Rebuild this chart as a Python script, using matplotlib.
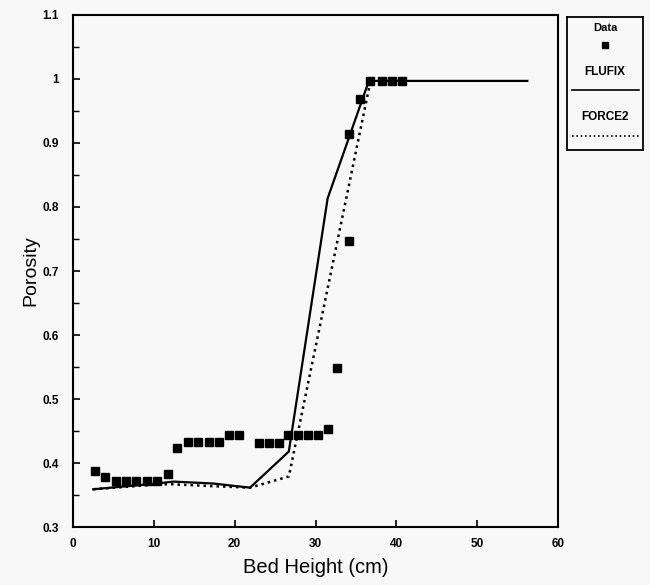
import numpy as np
import matplotlib
matplotlib.use("Agg")
import matplotlib.pyplot as plt
from matplotlib.ticker import MultipleLocator

# measured porosity
data_x = [2.7, 4.0, 5.3, 6.6, 7.8, 9.1, 10.4, 11.7, 12.9, 14.2, 15.5, 16.8, 18.1,
          19.3, 20.5, 23.0, 24.2, 25.5, 26.6, 27.8, 29.1, 30.3, 31.5, 32.7,
          34.1, 34.2, 35.5, 36.8, 38.2, 39.5, 40.7]
data_y = [0.388, 0.378, 0.372, 0.372, 0.372, 0.372, 0.372, 0.383, 0.423, 0.433,
          0.433, 0.433, 0.433, 0.443, 0.443, 0.432, 0.432, 0.432, 0.443, 0.443,
          0.443, 0.443, 0.453, 0.548, 0.747, 0.914, 0.968, 0.997, 0.997, 0.997, 0.997]

# FLUFIX model
flufix_x = [2.5, 10.4, 12.4, 17.3, 21.9, 26.7, 31.5, 36.6, 56.2]
flufix_y = [0.359, 0.368, 0.371, 0.368, 0.3615, 0.418, 0.8135, 0.997, 0.997]

# FORCE2 model
force2_x = [2.5, 10.0, 12.0, 17.0, 21.9, 26.7, 36.8]
force2_y = [0.359, 0.366, 0.367, 0.364, 0.3615, 0.379, 0.997]

plt.rcParams['font.family'] = ['Liberation Sans', 'DejaVu Sans']

fig = plt.figure(figsize=(6.5, 5.85), dpi=100)
fig.patch.set_facecolor('#f8f8f8')
ax = fig.add_axes([0.1123, 0.0991, 0.7462, 0.8753])
ax.set_facecolor('#f8f8f8')

ax.plot(flufix_x, flufix_y, color='black', lw=1.6)
ax.plot(force2_x, force2_y, color='black', lw=1.8, linestyle=(0, (1, 1.6)))
ax.plot(data_x, data_y, linestyle='none', marker='s', ms=6, color='black')

ax.set_xlim(0, 60)
ax.set_ylim(0.3, 1.1)
ax.xaxis.set_major_locator(MultipleLocator(10))
ax.yaxis.set_minor_locator(MultipleLocator(0.05))
ax.set_yticks(np.arange(0.3, 1.11, 0.1))
ax.set_yticklabels(['0.3', '0.4', '0.5', '0.6', '0.7', '0.8', '0.9', '1', '1.1'])
ax.tick_params(direction='in', length=5, width=1.2, labelsize=8.5, top=False, right=False)
ax.tick_params(axis='y', pad=10)
ax.tick_params(axis='x', pad=8)
ax.tick_params(which='minor', direction='in', length=4, width=1.0)
for lab in ax.get_xticklabels() + ax.get_yticklabels():
    lab.set_fontweight('bold')
for sp in ax.spines.values():
    sp.set_linewidth(1.5)

ax.set_xlabel('Bed Height (cm)', fontsize=14.5, labelpad=6)
ax.set_ylabel('Porosity', fontsize=14, labelpad=2)

# legend box
lg = fig.add_axes([0.8723, 0.7436, 0.1169, 0.2274])
lg.set_facecolor('#f8f8f8')
lg.set_xlim(0, 1)
lg.set_ylim(0, 1)
lg.set_xticks([])
lg.set_yticks([])
for sp in lg.spines.values():
    sp.set_linewidth(1.3)
lg.text(0.5, 0.917, 'Data', ha='center', va='center', fontsize=8, fontweight='bold')
lg.plot([0.5], [0.789], marker='s', ms=5, color='black')
lg.text(0.5, 0.586, 'FLUFIX', ha='center', va='center', fontsize=8.5, fontweight='bold')
lg.plot([0.07, 0.95], [0.451, 0.451], color='black', lw=1.2)
lg.text(0.5, 0.248, 'FORCE2', ha='center', va='center', fontsize=8.5, fontweight='bold')
lg.plot([0.07, 0.95], [0.105, 0.105], color='black', lw=1.2, linestyle=(0, (1, 1.6)))

fig.savefig('out.png', dpi=100)
